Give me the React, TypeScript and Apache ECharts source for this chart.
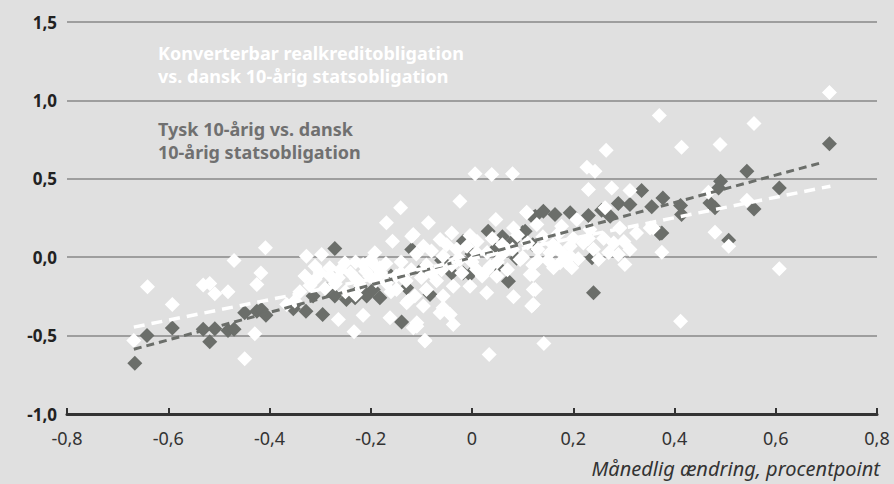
import React, { useEffect, useRef } from "react";
import * as echarts from "echarts";

// Tysk 10-årig vs. dansk 10-årig statsobligation (dark diamonds)
const darkPoints: [number, number][] = [
  [-0.666, -0.677], [-0.642, -0.499], [-0.592, -0.452], [-0.531, -0.46], [-0.518, -0.539],
  [-0.508, -0.456], [-0.482, -0.467], [-0.47, -0.46], [-0.449, -0.354], [-0.425, -0.344],
  [-0.416, -0.333], [-0.407, -0.371],
  [-0.353, -0.329], [-0.328, -0.344], [-0.295, -0.365], [-0.314, -0.248], [-0.287, -0.206],
  [-0.271, -0.248], [-0.248, -0.269], [-0.231, -0.259], [-0.208, -0.248], [-0.195, -0.206],
  [-0.182, -0.259], [-0.271, 0.055], [-0.139, -0.414], [-0.129, -0.195], [-0.119, 0.049],
  [-0.083, -0.238], [-0.004, -0.11], [-0.017, 0.102], [0.032, 0.166], [0.072, -0.153],
  [0.105, 0.166], [0.125, 0.261], [0.045, 0.049], [0.051, -0.06], [0.088, -0.007], [-0.018, -0.1],
  [-0.35, -0.3], [-0.22, -0.2], [-0.16, -0.12], [-0.1, -0.08], [-0.06, -0.02], [0.0, 0.02],
  [0.08, 0.1], [-0.04, -0.1], [0.06, 0.13], [0.12, 0.08],
  [0.141, 0.293], [0.164, 0.272], [0.194, 0.283], [0.23, 0.266], [0.256, 0.3], [0.273, 0.261],
  [0.289, 0.342], [0.312, 0.336], [0.335, 0.425], [0.355, 0.321], [0.121, 0.253], [0.1, 0.157],
  [0.24, -0.227], [0.237, -0.004], [0.375, 0.155],
  [0.706, 0.724], [0.543, 0.548], [0.491, 0.484], [0.487, 0.442], [0.607, 0.442], [0.377, 0.378],
  [0.412, 0.329], [0.414, 0.272], [0.47, 0.346], [0.48, 0.315], [0.557, 0.308], [0.371, 0.151],
  [0.507, 0.108],
];

// Konverterbar realkreditobligation vs. dansk 10-årig statsobligation (white diamonds)
const whitePoints: [number, number][] = [
  [-0.668, -0.531], [-0.641, -0.189], [-0.592, -0.301], [-0.531, -0.178], [-0.518, -0.168],
  [-0.508, -0.233], [-0.482, -0.22], [-0.47, -0.021], [-0.429, -0.488], [-0.449, -0.647],
  [-0.408, 0.06], [-0.417, -0.1], [-0.425, -0.174], [-0.366, -0.301],
  [-0.141, 0.315], [-0.169, 0.219], [-0.157, 0.102], [-0.119, 0.134], [-0.327, 0.006],
  [-0.297, 0.017], [-0.31, -0.057], [-0.281, -0.068], [-0.251, -0.036], [-0.264, -0.131],
  [-0.31, -0.142], [-0.215, -0.046], [-0.192, 0.028], [-0.182, -0.068], [-0.35, -0.28],
  [-0.264, -0.397], [-0.233, -0.476], [-0.215, -0.371], [-0.162, -0.386], [-0.126, -0.28],
  [-0.116, -0.45], [-0.202, -0.121], [-0.169, -0.163], [-0.149, -0.206], [-0.228, -0.142],
  [-0.109, -0.44], [-0.093, -0.529], [-0.063, -0.355], [-0.129, -0.29],
  [0.006, 0.533], [0.039, 0.527], [0.08, 0.533], [-0.024, 0.357], [-0.086, 0.219],
  [-0.116, 0.145], [-0.04, 0.155], [-0.004, 0.138], [0.047, 0.24], [0.108, 0.287],
  [0.082, 0.187], [-0.096, 0.07], [-0.063, 0.113], [-0.057, 0.006], [-0.024, -0.015],
  [0.009, 0.028], [0.036, -0.057], [0.069, 0.049], [0.095, -0.015], [0.115, -0.11],
  [0.121, -0.206], [0.118, -0.312], [0.082, -0.252], [0.029, -0.227], [-0.004, -0.185],
  [-0.037, -0.185], [-0.057, -0.248], [-0.09, -0.206], [-0.113, -0.248], [-0.096, -0.312],
  [-0.057, -0.322], [-0.043, -0.365], [-0.037, -0.429], [-0.109, -0.418], [-0.093, -0.535],
  [0.034, -0.62], [0.009, -0.078], [0.049, -0.121], [0.142, -0.55],
  [0.265, 0.682], [0.227, 0.573], [0.243, 0.548], [0.23, 0.431], [0.276, 0.442], [0.312, 0.425],
  [0.263, 0.315], [0.128, 0.208], [0.177, 0.197], [0.207, 0.24], [0.233, 0.176], [0.292, 0.187],
  [0.325, 0.155], [0.352, 0.187], [0.194, 0.07], [0.154, 0.028], [0.174, -0.036], [0.197, -0.068],
  [0.25, -0.015], [0.289, 0.017], [0.302, -0.046], [0.312, 0.049], [0.121, -0.11], [0.125, -0.206],
  [0.121, -0.301], [0.108, 0.283], [0.187, -0.036], [0.194, 0.006], [0.161, -0.068],
  [0.706, 1.051], [0.37, 0.903], [0.557, 0.852], [0.414, 0.701], [0.49, 0.718], [0.467, 0.414],
  [0.543, 0.363], [0.48, 0.159], [0.507, 0.07], [0.375, 0.032], [0.358, 0.187], [0.607, -0.074],
  [0.412, -0.408],
  [-0.34, -0.22], [-0.32, -0.18], [-0.3, -0.1], [-0.29, -0.2], [-0.27, -0.17], [-0.26, -0.08],
  [-0.25, -0.22], [-0.24, -0.1], [-0.23, -0.03], [-0.22, -0.18], [-0.21, -0.09], [-0.2, -0.02],
  [-0.19, -0.15], [-0.18, -0.1], [-0.17, -0.04], [-0.16, -0.22], [-0.15, -0.12], [-0.14, -0.03],
  [-0.13, -0.15], [-0.12, -0.08], [-0.11, 0.02], [-0.1, -0.13], [-0.09, -0.05], [-0.08, 0.04],
  [-0.07, -0.15], [-0.06, -0.08], [-0.05, 0.08], [-0.04, -0.05], [-0.03, 0.05], [-0.02, -0.1],
  [-0.01, 0.07], [0.0, -0.03], [0.01, 0.1], [0.02, -0.12], [0.03, 0.03], [0.04, 0.12],
  [0.05, -0.03], [0.06, 0.08], [0.07, -0.08], [0.08, 0.05], [0.09, 0.14], [0.1, 0.0],
  [0.11, 0.09], [0.12, -0.05], [0.13, 0.05], [0.14, 0.13], [0.15, -0.02], [0.16, 0.08],
  [0.17, 0.15], [0.18, 0.02], [0.2, 0.12], [0.21, -0.01], [0.22, 0.09], [0.24, 0.05],
  [0.26, 0.12], [0.27, 0.03], [0.28, 0.09], [0.3, 0.1],
  [-0.33, -0.12], [-0.28, -0.12], [-0.23, -0.24], [-0.19, -0.06], [-0.14, -0.1], [-0.08, -0.1],
  [-0.03, -0.02], [0.03, -0.08], [0.06, 0.02], [0.13, -0.02], [0.17, 0.05], [0.23, 0.12],
];

const darkTrend: [number, number][] = [[-0.668, -0.587], [0.694, 0.606]];
const whiteTrend: [number, number][] = [[-0.668, -0.446], [0.708, 0.453]];

const legendWhite = ["Konverterbar realkreditobligation", "vs. dansk 10-årig statsobligation"];
const legendDark = ["Tysk 10-årig vs. dansk", "10-årig statsobligation"];
const xAxisTitle = "Månedlig ændring, procentpoint";

const DARK = "#6b6e6a";
const FONT = "'Noto Sans', 'Open Sans', sans-serif";

const fmt = (v: number) => (v === 0 ? "0" : v.toFixed(1).replace(".", ","));

export default function App() {
  const ref = useRef<HTMLDivElement>(null);
  useEffect(() => {
    if (!ref.current) return;
    const chart = echarts.init(ref.current, null, { renderer: "svg" });
    chart.setOption({
      animation: false,
      backgroundColor: "#e0e0e0",
      grid: { left: 67, top: 22, width: 810, height: 392 },
      xAxis: {
        type: "value",
        min: -0.8,
        max: 0.8,
        interval: 0.2,
        axisLine: { onZero: false, lineStyle: { color: "#333", width: 3 } },
        axisTick: { inside: true, length: 6, lineStyle: { color: "#333", width: 2 } },
        splitLine: { show: false },
        axisLabel: {
          formatter: (v: number) => fmt(Math.round(v * 10) / 10),
          color: "#333",
          fontSize: 18,
          fontFamily: FONT,
          margin: 15,
        },
      },
      yAxis: {
        type: "value",
        min: -1,
        max: 1.5,
        interval: 0.5,
        axisLine: { show: false },
        axisTick: { show: false },
        splitLine: { lineStyle: { color: "#888", width: 1.5 } },
        axisLabel: {
          formatter: (v: number) => v.toFixed(1).replace(".", ","),
          color: "#222",
          fontWeight: "bold",
          fontSize: 17,
          fontFamily: FONT,
          margin: 10,
        },
      },
      series: [
        {
          type: "scatter",
          data: darkPoints,
          symbol: "diamond",
          symbolSize: 15,
          itemStyle: { color: DARK, opacity: 1 },
          z: 2,
        },
        {
          type: "scatter",
          data: whitePoints,
          symbol: "diamond",
          symbolSize: 15,
          itemStyle: { color: "#ffffff", opacity: 1 },
          z: 3,
        },
        {
          type: "line",
          data: darkTrend,
          symbol: "none",
          lineStyle: { color: DARK, width: 3, type: [8, 5] },
          z: 4,
        },
        {
          type: "line",
          data: whiteTrend,
          symbol: "none",
          lineStyle: { color: "#ffffff", width: 3.5, type: [11, 7] },
          z: 5,
        },
      ],
      graphic: [
        {
          type: "text",
          left: 158,
          top: 41,
          style: {
            text: legendWhite.join("\n"),
            fill: "#ffffff",
            font: `bold 18px ${FONT}`,
            lineHeight: 23,
          },
        },
        {
          type: "text",
          left: 158,
          top: 117,
          style: {
            text: legendDark.join("\n"),
            fill: "#707070",
            font: `bold 18px ${FONT}`,
            lineHeight: 23,
          },
        },
        {
          type: "text",
          right: 14,
          top: 458,
          style: {
            text: xAxisTitle,
            fill: "#333",
            font: `italic 20px ${FONT}`,
          },
        },
      ],
    });
    return () => chart.dispose();
  }, []);
  return (
    <div
      ref={ref}
      style={{ position: "fixed", left: 0, top: 0, width: 894, height: 484 }}
    />
  );
}
